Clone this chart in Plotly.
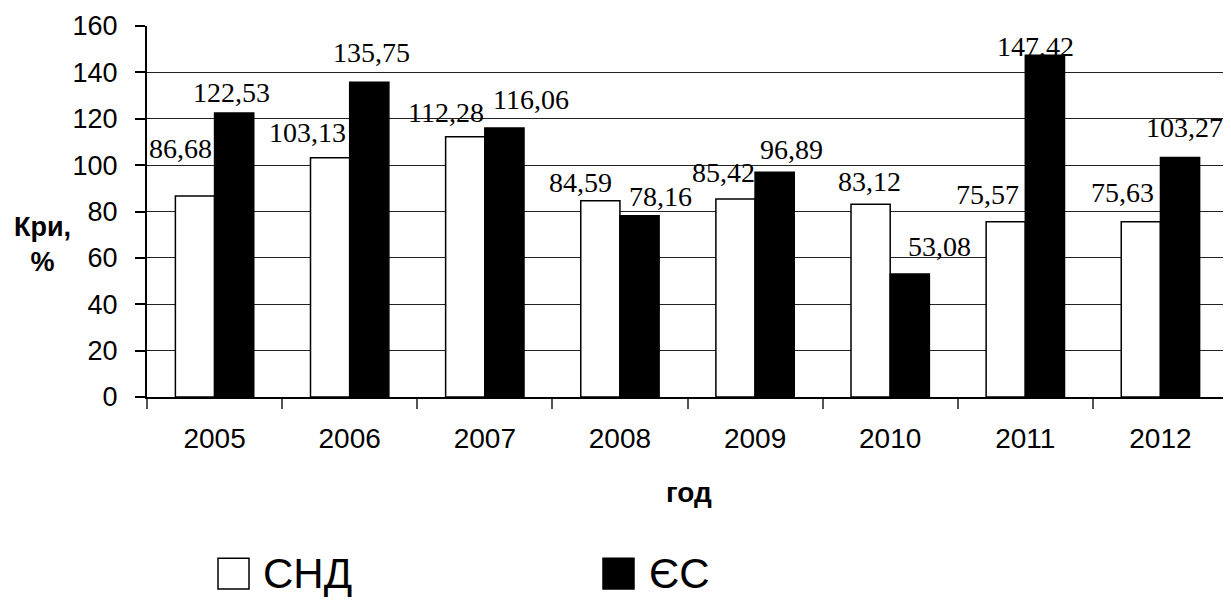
import plotly.graph_objects as go

years = ["2005", "2006", "2007", "2008", "2009", "2010", "2011", "2012"]
cis_values = [86.68, 103.13, 112.28, 84.59, 85.42, 83.12, 75.57, 75.63]
eu_values = [122.53, 135.75, 116.06, 78.16, 96.89, 53.08, 147.42, 103.27]
cis_name = "СНД"
eu_name = "ЄС"
y_title = "Кри,<br>%"
x_title = "год"
y_ticks = [0, 20, 40, 60, 80, 100, 120, 140, 160]

# label placement offsets (pixels) relative to bar top centre - style only
cis_dx = [-14, -23, -19, -20, -12, -1, -18, -18]
cis_dy = [48, 25, 24, 18, 26, 23, 27, 29]
eu_dx = [-3, 2, 27, 21, 17, 30, -9, 4]
eu_dy = [20, 30, 28, 19, 23, 27, 9, 30]

BAR_HALF = 19.6

def fmt(v):
    return f"{v:.2f}".replace(".", ",")

fig = go.Figure()
fig.add_trace(go.Bar(x=years, y=cis_values, name=cis_name,
                     marker=dict(color="white", line=dict(color="black", width=1.5))))
fig.add_trace(go.Bar(x=years, y=eu_values, name=eu_name,
                     marker=dict(color="black", line=dict(color="black", width=1.5))))

annotations = []
for i, yr in enumerate(years):
    annotations.append(dict(x=i, y=cis_values[i], xref="x", yref="y", text=fmt(cis_values[i]),
                            showarrow=False, xanchor="center", yanchor="middle",
                            xshift=-BAR_HALF + cis_dx[i], yshift=cis_dy[i],
                            font=dict(family="Liberation Serif", size=28, color="black")))
    annotations.append(dict(x=i, y=eu_values[i], xref="x", yref="y", text=fmt(eu_values[i]),
                            showarrow=False, xanchor="center", yanchor="middle",
                            xshift=BAR_HALF + eu_dx[i], yshift=eu_dy[i],
                            font=dict(family="Liberation Serif", size=28, color="black")))

# page has an 8px body margin; size the figure so it fills the 1231x601 window
OFF = 8
W, H = 1231 - OFF, 601 - OFF
L, R, T, B = 147 - OFF, 3, 24 - OFF, 204
pw, ph = W - L - R, H - T - B

def pxx(X):
    return (X - OFF - L) / pw

def pyy(Y):
    return (H - B - (Y - OFF)) / ph

# axis titles
annotations.append(dict(x=pxx(42), y=pyy(244), xref="paper", yref="paper", text=y_title,
                        showarrow=False, xanchor="center", yanchor="middle", align="center",
                        font=dict(family="Liberation Sans", size=27, color="black", weight="bold")))
annotations.append(dict(x=pxx(689), y=pyy(493), xref="paper", yref="paper", text=x_title,
                        showarrow=False, xanchor="center", yanchor="middle",
                        font=dict(family="Liberation Sans", size=28, color="black", weight="bold")))

# legend (custom)
shapes = [
    dict(type="rect", xref="paper", yref="paper", x0=pxx(218), x1=pxx(249), y0=pyy(590), y1=pyy(559),
         fillcolor="white", line=dict(color="black", width=1.5)),
    dict(type="rect", xref="paper", yref="paper", x0=pxx(603), x1=pxx(634), y0=pyy(590), y1=pyy(559),
         fillcolor="black", line=dict(color="black", width=1.5)),
]
annotations.append(dict(x=pxx(261), y=pyy(574), xref="paper", yref="paper", text=cis_name,
                        showarrow=False, xanchor="left", yanchor="middle",
                        font=dict(family="Liberation Sans", size=42, color="black")))
annotations.append(dict(x=pxx(647), y=pyy(574), xref="paper", yref="paper", text=eu_name,
                        showarrow=False, xanchor="left", yanchor="middle",
                        font=dict(family="Liberation Sans", size=42, color="black")))

fig.update_layout(
    width=W, height=H,
    margin=dict(l=L, r=R, t=T, b=B, pad=0),
    paper_bgcolor="white", plot_bgcolor="white",
    barmode="group", bargap=0.42, bargroupgap=0,
    showlegend=False,
    annotations=annotations, shapes=shapes,
    xaxis=dict(type="category", range=[-0.5, len(years) - 0.5], autorange=False,
               showline=True, linecolor="black", linewidth=1.5,
               ticks="outside", tickson="boundaries", ticklen=10, tickcolor="#555", tickwidth=1.5,
               showgrid=False, ticklabelstandoff=16, tickangle=0,
               tickfont=dict(family="Liberation Sans", size=28, color="black")),
    yaxis=dict(range=[0, 160], tickvals=y_ticks, showline=True, linecolor="black", linewidth=2,
               ticks="outside", ticklen=10, tickcolor="black", tickwidth=1.5,
               showgrid=True, gridcolor="#222", gridwidth=1, zeroline=False,
               ticklabelstandoff=12,
               tickfont=dict(family="Liberation Sans", size=27, color="black")),
)

fig.write_html("out.html")
